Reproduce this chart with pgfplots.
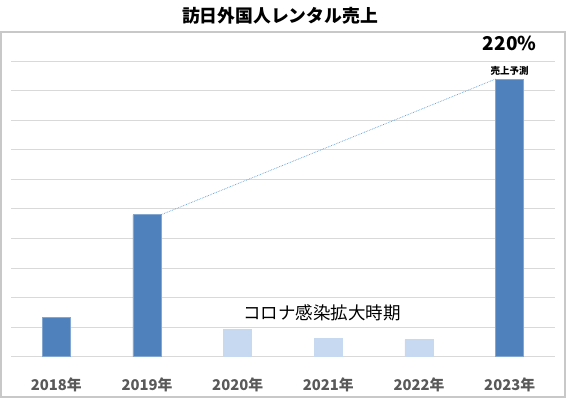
\documentclass[border=0pt]{standalone}
\usepackage{fontspec}
\setmainfont{Noto Sans CJK JP}
\usepackage{pgfplots}
\pgfplotsset{compat=1.18}

\definecolor{barblue}{HTML}{4F81BD}
\definecolor{barlight}{HTML}{C6D9F0}
\definecolor{gridgray}{HTML}{D9D9D9}
\definecolor{framegray}{HTML}{C8C8C8}
\definecolor{ticktext}{HTML}{595959}
\definecolor{trendblue}{HTML}{5B9BD5}

\begin{document}
\begin{tikzpicture}
% page frame 566 x 400
\path[use as bounding box] (0pt,0pt) rectangle (566pt,400pt);
\draw[framegray, line width=1.2pt] (1pt,3pt) rectangle (565pt,368pt);
\node[font=\fontsize{17.8}{20}\selectfont\bfseries] at (280pt,384pt) {訪日外国人レンタル売上};

\begin{axis}[
    at={(11pt,43.3pt)}, anchor=south west,
    scale only axis,
    width=544pt, height=295.7pt,
    xmin=-0.5, xmax=5.5,
    ymin=0, ymax=10,
    ytick={0,1,...,10},
    yticklabels={},
    ymajorgrids,
    grid style={gridgray, line width=0.9pt},
    axis line style={draw=none},
    major tick length=0pt,
    xtick={0,1,2,3,4,5},
    xticklabels={2018年,2019年,2020年,2021年,2022年,2023年},
    xticklabel style={anchor=center, yshift=-28pt, text=ticktext,
        font=\fontsize{14.8}{16}\selectfont\bfseries},
    clip=false,
]
% normal years
\addplot[ybar, bar width=28pt, bar shift=0pt, fill=barblue, draw=barblue!70!white, line width=0.6pt]
    coordinates {(0,1.34) (1,4.80) (5,9.39)};
% corona period
\addplot[ybar, bar width=28pt, bar shift=0pt, fill=barlight, draw=barlight, line width=0.6pt]
    coordinates {(2,0.92) (3,0.61) (4,0.58)};
% trend line 2019 -> 2023
\addplot[trendblue, densely dotted, line width=0.7pt] coordinates {(1.155,4.80) (4.845,9.39)};

\node[font=\fontsize{17.5}{20}\selectfont] at (axis cs:2.93,1.47) {コロナ感染拡大時期};
\node[font=\fontsize{9.5}{11}\selectfont\bfseries] at (axis cs:5,9.67) {売上予測};
\node[font=\fontsize{19}{22}\selectfont\bfseries] at (axis cs:5,10.58) {220\%};
\end{axis}
\end{tikzpicture}
\end{document}
